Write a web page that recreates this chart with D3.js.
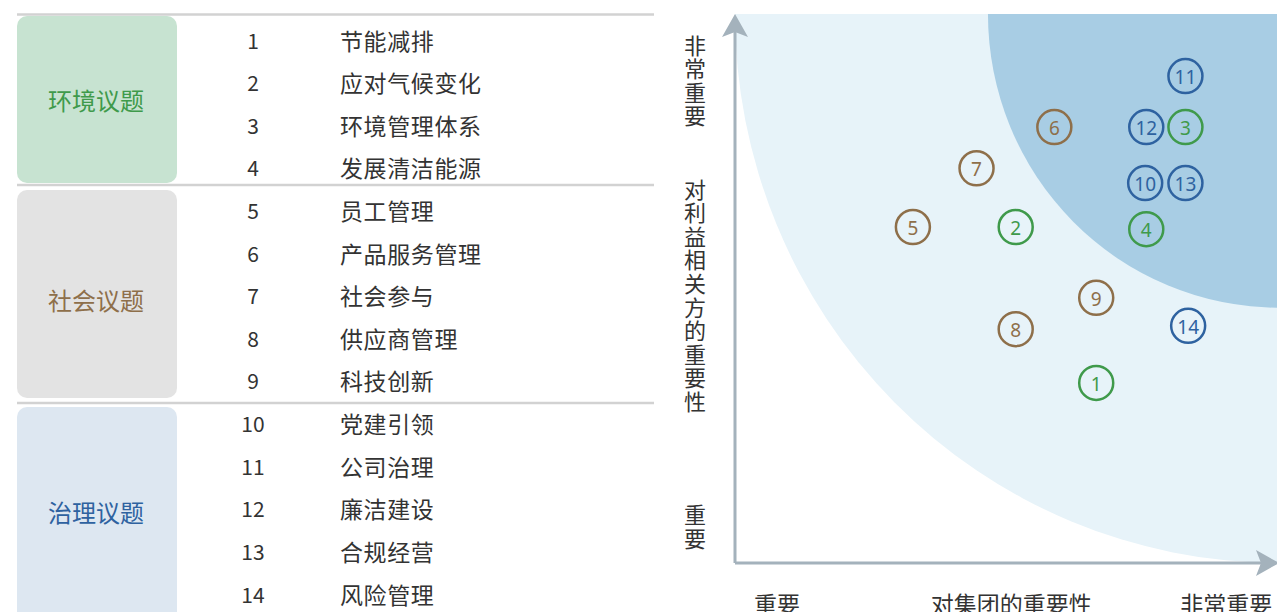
<!DOCTYPE html>
<html><head><meta charset="utf-8">
<script src="https://cdn.jsdelivr.net/npm/d3@7"></script>
<style>
html,body{margin:0;padding:0;background:#fff;}
svg{display:block;font-family:"Noto Sans CJK SC","Noto Sans",sans-serif;}
</style></head>
<body><svg id="c" width="1277" height="612"></svg>
<script>
// ---- data ----
const groupNames = ["环境议题", "社会议题", "治理议题"];
const groupColors = ["#3f9a4b", "#8e6f4a", "#2e62a0"];
const groupFills = ["#c7e3d1", "#e3e3e3", "#dde7f1"];
const groupRanges = [[1, 4], [5, 9], [10, 14]];
const issueIds = [1,2,3,4,5,6,7,8,9,10,11,12,13,14];
const issueNames = ["节能减排","应对气候变化","环境管理体系","发展清洁能源","员工管理","产品服务管理","社会参与","供应商管理","科技创新","党建引领","公司治理","廉洁建设","合规经营","风险管理"];
const issueGroup = [0,0,0,0,1,1,1,1,1,2,2,2,2,2];
// importance to group (x) and to stakeholders (y), 0-10
const groupImportance = [6.64,5.16,8.28,7.56,3.27,5.87,4.44,5.16,6.64,7.54,8.28,7.56,8.28,8.33];
const stakeImportance = [3.28,6.12,7.94,6.08,6.12,7.94,7.19,4.26,4.83,6.92,8.87,7.94,6.92,4.32];
const zoneRadii = [10, 5.35];
const zoneFills = ["#e7f3f9", "#a8cde4"];
const xTickLabels = ["重要", "对集团的重要性", "非常重要"];
const xTickValues = [0.77, 5.08, 9.03];
const yLabelGroups = ["非常重要", "对利益相关方的重要性", "重要"];
const yLabelStarts = [9.63, 7.01, 1.08];

const svg = d3.select("#c");

// ---- left table ----
const rowY = d3.scalePoint().domain(issueIds).range([39.5, 593.5]);
const sepY = [14.5, 185, 403];
const boxBounds = [[16, 183], [190, 398], [407, 640]];
const table = svg.append("g");
table.selectAll("rect.box").data(groupNames).join("rect")
  .attr("x", 17).attr("width", 160)
  .attr("y", (d,i)=>boxBounds[i][0])
  .attr("height", (d,i)=>boxBounds[i][1]-boxBounds[i][0])
  .attr("rx", 10).attr("fill", (d,i)=>groupFills[i]);
table.selectAll("line.sep").data(sepY).join("line")
  .attr("x1", 17).attr("x2", 654).attr("y1", d=>d).attr("y2", d=>d)
  .attr("stroke", "#d2d2d2").attr("stroke-width", 2.5);
table.selectAll("text.grp").data(groupNames).join("text")
  .attr("x", 96)
  .attr("y", (d,i)=>(rowY(groupRanges[i][0])+rowY(groupRanges[i][1]))/2 + [-3.5,4,3][i])
  .attr("text-anchor", "middle").attr("dominant-baseline", "central")
  .attr("font-size", 24).attr("fill", (d,i)=>groupColors[i]).text(d=>d);
table.selectAll("text.num").data(issueIds).join("text")
  .attr("x", 253).attr("y", d=>rowY(d)).attr("text-anchor", "middle")
  .attr("dominant-baseline", "central").attr("font-size", 21).attr("fill", "#333")
  .text(d=>d);
table.selectAll("text.name").data(issueNames).join("text")
  .attr("x", 340).attr("y", (d,i)=>rowY(issueIds[i])).attr("dominant-baseline", "central")
  .attr("font-size", 23).attr("letter-spacing", 0.6).attr("fill", "#333").text(d=>d);

// ---- matrix ----
const x = d3.scaleLinear().domain([0, 10]).range([735, 1279]);
const y = d3.scaleLinear().domain([0, 10]).range([563, 14]);
svg.append("clipPath").attr("id", "pc").append("rect")
  .attr("x", x(0)).attr("y", y(10)).attr("width", x(10)-x(0)).attr("height", y(0)-y(10));
const zones = svg.append("g").attr("clip-path", "url(#pc)");
zones.selectAll("ellipse").data(zoneRadii).join("ellipse")
  .attr("cx", x(10)).attr("cy", y(10))
  .attr("rx", d=>x(10)-x(10-d)).attr("ry", d=>y(10-d)-y(10))
  .attr("fill", (d,i)=>zoneFills[i]);

// axes
const axisColor = "#a4b2bc";
const xAxis = d3.axisBottom(x).tickValues([]).tickSizeOuter(0);
const yAxis = d3.axisLeft(y).tickValues([]).tickSizeOuter(0);
const gx = svg.append("g").attr("transform", `translate(0,${y(0)})`).call(xAxis);
const gy = svg.append("g").attr("transform", `translate(${x(0)},0)`).call(yAxis);
[gx, gy].forEach(g => g.select(".domain").attr("stroke", axisColor).attr("stroke-width", 3));
gx.select(".domain").attr("d", `M${x(0)},0H${x(10)-14}`);
gy.select(".domain").attr("d", `M0,${y(0)}V${y(10)+14}`);
// arrowheads
const x0 = x(0), y0 = y(0), xe = x(10), ye = y(10);
svg.append("path").attr("fill", axisColor)
  .attr("d", `M${x0},${ye} L${x0+13},${ye+23} L${x0},${ye+18} L${x0-13},${ye+23} Z`);
svg.append("path").attr("fill", axisColor)
  .attr("d", `M${xe},${y0} L${xe-23},${y0-13} L${xe-18},${y0} L${xe-23},${y0+13} Z`);

// x labels
svg.selectAll("text.xl").data(xTickLabels).join("text")
  .attr("x", (d,i)=>x(xTickValues[i])).attr("y", 613)
  .attr("text-anchor", "middle").attr("font-size", 23).attr("fill", "#333").text(d=>d);
// y labels (vertical writing)
svg.selectAll("text.yl").data(yLabelGroups).join("text")
  .attr("x", 695).attr("y", (d,i)=>y(yLabelStarts[i]))
  .attr("writing-mode", "vertical-rl")
  .attr("style", "writing-mode: vertical-rl; text-orientation: upright;")
  .attr("letter-spacing", 1.6)
  .attr("font-size", 22).attr("fill", "#333").text(d=>d);

// points
const pts = svg.append("g").selectAll("g").data(issueIds).join("g")
  .attr("transform", (d,i)=>`translate(${x(groupImportance[i])},${y(stakeImportance[i])})`);
pts.append("circle").attr("r", 17).attr("fill", "none")
  .attr("stroke", (d,i)=>groupColors[issueGroup[i]]).attr("stroke-width", 2.5);
pts.append("text").attr("text-anchor", "middle").attr("dominant-baseline", "central")
  .attr("font-family", "'Noto Sans','Noto Sans CJK SC',sans-serif")
  .attr("font-size", 19).attr("fill", (d,i)=>groupColors[issueGroup[i]])
  .attr("dy", 1).text(d=>d);
</script></body></html>
